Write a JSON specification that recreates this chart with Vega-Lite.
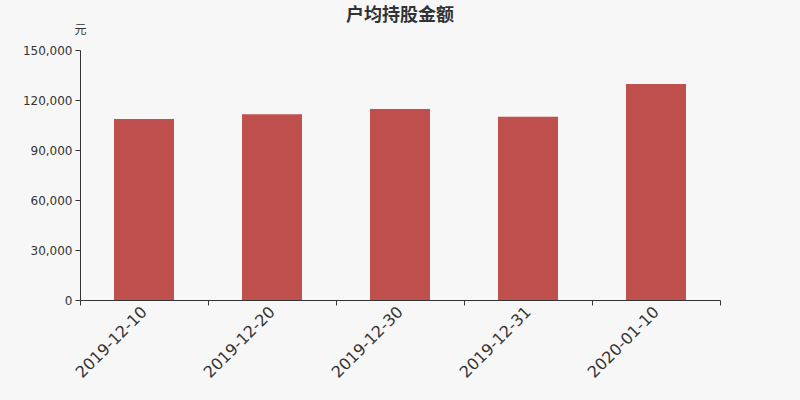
{
  "$schema": "https://vega.github.io/schema/vega-lite/v6.json",
  "data": {
    "values": [
      {"date": "2019-12-10", "amount": 108600},
      {"date": "2019-12-20", "amount": 111400},
      {"date": "2019-12-30", "amount": 114600},
      {"date": "2019-12-31", "amount": 110000},
      {"date": "2020-01-10", "amount": 129600}
    ]
  },
  "width": 640,
  "height": 250,
  "autosize": {"type": "none"},
  "padding": {"left": 80, "top": 50, "right": 80, "bottom": 100},
  "background": "#f7f7f7",
  "title": {
    "text": "户均持股金额",
    "font": "Noto Sans CJK SC",
    "fontSize": 18,
    "fontWeight": "bold",
    "color": "#333333",
    "anchor": "middle",
    "offset": -2
  },
  "mark": {"type": "bar", "color": "#c0504e", "width": 60},
  "encoding": {
    "x": {
      "field": "date",
      "type": "ordinal",
      "title": null,
      "scale": {"paddingInner": 0, "paddingOuter": 0},
      "axis": {
        "labelAngle": -45,
        "labelAlign": "right",
        "labelBaseline": "middle",
        "labelFontSize": 16,
        "labelFont": "DejaVu Sans",
        "labelColor": "#333333",
        "domainColor": "#333333",
        "tickColor": "#333333",
        "tickSize": 5,
        "tickBand": "extent",
        "labelPadding": 4
      }
    },
    "y": {
      "field": "amount",
      "type": "quantitative",
      "title": "元",
      "scale": {"domain": [0, 150000]},
      "axis": {
        "values": [0, 30000, 60000, 90000, 120000, 150000],
        "format": ",d",
        "grid": false,
        "labelFontSize": 12,
        "labelFont": "DejaVu Sans",
        "labelColor": "#333333",
        "domainColor": "#333333",
        "tickColor": "#333333",
        "tickSize": 5,
        "labelPadding": 3,
        "titleAngle": 0,
        "titleX": 0,
        "titleY": -21,
        "titleAlign": "center",
        "titleBaseline": "middle",
        "titleFont": "Noto Sans CJK SC",
        "titleFontSize": 12,
        "titleFontWeight": "normal",
        "titleColor": "#333333"
      }
    }
  },
  "config": {
    "view": {"stroke": null}
  }
}
